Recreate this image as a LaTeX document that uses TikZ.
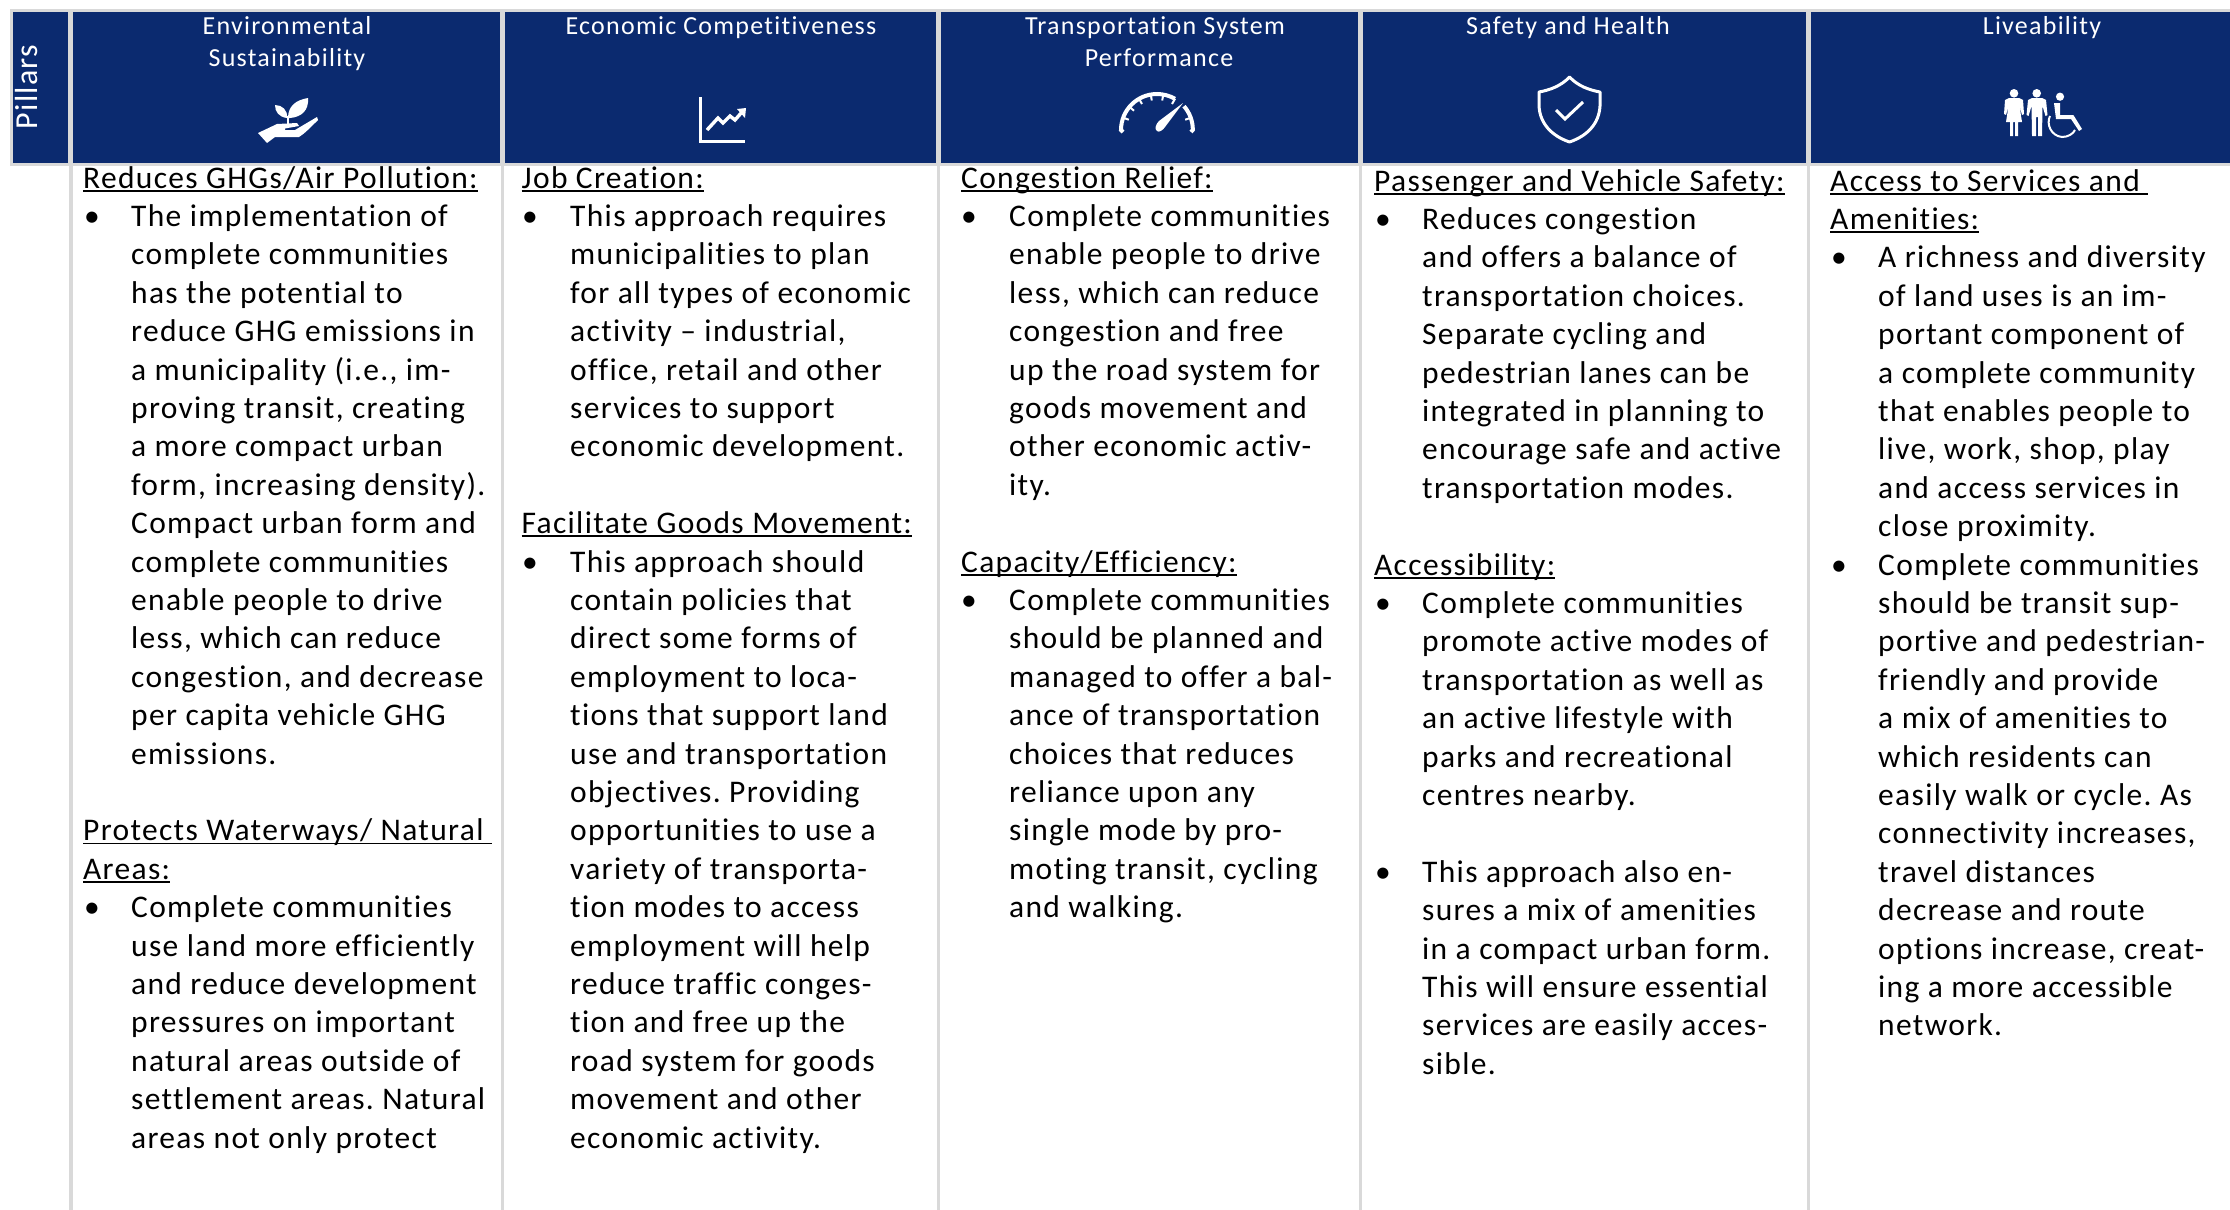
\documentclass[tikz,border=0pt]{standalone}
\usepackage{fontspec}
\setmainfont{Carlito}[Ligatures=NoCommon]
\definecolor{navy}{HTML}{0B2A6F}
\definecolor{grid}{HTML}{D9D9D9}
\newcommand{\ulin}[1]{\setbox0\hbox{#1}\rlap{\rule[-3.5pt]{\wd0}{1.7pt}}\box0}
\tikzset{
 headbox/.style={fill=navy,draw=none},
 gridline/.style={draw=grid,line width=3.5pt},
 bodyfont/.style={font=\fontsize{31.5}{38.4}\selectfont\addfontfeatures{LetterSpace=4.2}\frenchspacing},
 block/.style={bodyfont,anchor=north west,inner sep=0pt,align=left},
 headtxt/.style={font=\fontsize{26}{32}\selectfont\addfontfeatures{LetterSpace=4.8},text=white,anchor=north,inner sep=0pt,align=center},
 icon/.style={fill=white,draw=none},
 iconline/.style={draw=white,line width=3pt},
}
\newcommand{\bul}{\strut •}
\begin{document}
\begin{tikzpicture}[x=1pt,y=-1pt]
\useasboundingbox (0,0) rectangle (2230,1210);
\fill[white] (0,0) rectangle (2230,1210);
% header band
\fill[grid] (10,9) rectangle (2230,166);
\fill[headbox] (13,12) rectangle (68,163);
\fill[headbox] (73,12) rectangle (500,163);
\fill[headbox] (505,12) rectangle (936,163);
\fill[headbox] (941,12) rectangle (1358,163);
\fill[headbox] (1363,12) rectangle (1806,163);
\fill[headbox] (1811,12) rectangle (2230,163);
% grid lines
\draw[gridline] (71,166) -- (71,1210);
\draw[gridline] (502.5,166) -- (502.5,1210);
\draw[gridline] (938.5,166) -- (938.5,1210);
\draw[gridline] (1360.5,166) -- (1360.5,1210);
\draw[gridline] (1808.5,166) -- (1808.5,1210);
% header text
\node[text=white,inner sep=0pt,rotate=90,anchor=center,font=\fontsize{32}{32}\selectfont\addfontfeatures{LetterSpace=4}] (pil) at (27,87) {Pillars};
\node[headtxt] (h1) at (287,12) {\strut Environmental\\\strut Sustainability};
\node[headtxt] (h2) at (721,12) {\strut Economic Competitiveness};
\node[headtxt] (h3) at (1155,12) {\strut Transportation System\\\strut\hspace{8pt}Performance};
\node[headtxt] (h4) at (1568,12) {\strut Safety and Health};
\node[headtxt] (h5) at (2042,12) {\strut Liveability};
% plant icon
\fill[icon] (258,133) -- (277,124) -- (297,123) -- (299,126) -- (285,128.5) -- (285,130) -- (295,130) -- (317,117) -- (318,120) .. controls (310,128) and (304,134) .. (299,137) -- (275,137) -- (267,143) -- cycle;
\fill[icon] (288,118) .. controls (288,106) and (296,100) .. (308,98) .. controls (309,110) and (302,117) .. (290,118) -- cycle;
\fill[icon] (287,118) .. controls (279,117) and (275,112) .. (275,105) .. controls (282,105) and (288,110) .. (287,118) -- cycle;
\draw[draw=white,line width=1.5pt] (288,125) -- (288,116);
% chart icon
\draw[iconline] (700,97) -- (700,141) -- (745,141);
\draw[iconline,line width=3.4pt] (707,130) -- (718,118) -- (723,123) -- (730,116) -- (735,120) -- (742,112);
\fill[icon] (737,109) -- (746,108) -- (745,118) -- cycle;
% gauge icon
\draw[iconline,line width=4pt] (1123,132) -- (1121,130) arc[start angle=-180,end angle=-60,radius=36];
\draw[iconline,line width=4pt] (1184,106.2) arc[start angle=-41,end angle=0,radius=36] -- (1191,132);
\foreach \a in {160,140,120,100,80,60,20}{
 \draw[draw=white,line width=2pt] ({1157+36*cos(\a)},{130-36*sin(\a)}) -- ({1157+30*cos(\a)},{130-30*sin(\a)});}
\fill[icon] (1159,121) -- (1183,103) -- (1165,127) .. controls (1163,130) and (1159,133) .. (1157,131) .. controls (1154,129) and (1156,124) .. (1159,121) -- cycle;
% shield icon
\draw[draw=white,line width=3pt,line join=round] (1569.5,77) .. controls (1561,86) and (1550,90) .. (1539,92) -- (1539,106) .. controls (1540,124) and (1552,136) .. (1569.5,142) .. controls (1587,136) and (1599,124) .. (1600,106) -- (1600,92) .. controls (1589,90) and (1578,86) .. (1569.5,77) -- cycle;
\draw[draw=white,line width=3pt] (1556,110) -- (1565,119) -- (1583,102);
% people icon
\fill[icon] (2014,93.3) circle (4.3);
\fill[icon] (2009,98) -- (2019,98) -- (2023,100) -- (2024,114) -- (2022,115) -- (2019.5,106) -- (2022,122) -- (2018,122) -- (2018,136) -- (2015,136) -- (2015,122) -- (2013,122) -- (2013,136) -- (2010,136) -- (2010,122) -- (2006,122) -- (2008.5,106) -- (2006,115) -- (2004,114) -- (2005,100) -- cycle;
\fill[icon] (2036.7,93.3) circle (4.3);
\fill[icon] (2032,98) -- (2042,98) -- (2046,100) -- (2047.5,115) -- (2045.5,116) -- (2042.5,106) -- (2042,136) -- (2038,136) -- (2038,117) -- (2036,117) -- (2036,136) -- (2032,136) -- (2031.5,106) -- (2028.5,116) -- (2026.5,115) -- (2028,100) -- cycle;
\fill[icon] (2060,96.7) circle (4.1);
\fill[icon] (2054,103) -- (2060,103) -- (2060,115) -- (2073,115) -- (2074,116) -- (2082,129) -- (2079,131) -- (2071,119) -- (2056,119) -- cycle;
\draw[draw=white,line width=2pt] (2050,116) .. controls (2046,124) and (2051,136) .. (2062,137) .. controls (2068,137) and (2073,134) .. (2075,130);
% column 1
\node[block] (a0) at (83,161) {\strut\ulin{Reduces GHGs/Air Pollution:}};
\node[block] (ab1) at (84,199.4) {\bul};
\node[block] (a1) at (131,199.4) {\strut The implementation of\\complete communities\\has the potential to\\reduce GHG emissions in\\a municipality (i.e., im-\\proving transit, creating\\a more compact urban\\form, increasing density).\\Compact urban form and\\complete communities\\enable people to drive\\less, which can reduce\\congestion, and decrease\\per capita vehicle GHG\\emissions.};
\node[block] (a2) at (83,813.8) {\strut\ulin{Protects Waterways/ Natural\ }\\\ulin{Areas:}};
\node[block] (ab2) at (84,890.6) {\bul};
\node[block] (a3) at (131,890.6) {\strut Complete communities\\use land more efficiently\\and reduce development\\pressures on important\\natural areas outside of\\settlement areas. Natural\\areas not only protect};
% column 2
\node[block] (b0) at (521.5,161) {\strut\ulin{Job Creation:}};
\node[block] (bb1) at (522,199.4) {\bul};
\node[block] (b1) at (570,199.4) {\strut This approach requires\\municipalities to plan\\for all types of economic\\activity -- industrial,\\office, retail and other\\services to support\\economic development.};
\node[block] (b2) at (521.5,506.6) {\strut\ulin{Facilitate Goods Movement:}};
\node[block] (bb2) at (522,545) {\bul};
\node[block] (b3) at (570,545) {\strut This approach should\\contain policies that\\direct some forms of\\employment to loca-\\tions that support land\\use and transportation\\objectives. Providing\\opportunities to use a\\variety of transporta-\\tion modes to access\\employment will help\\reduce traffic conges-\\tion and free up the\\road system for goods\\movement and other\\economic activity.};
% column 3
\node[block] (c0) at (961,161) {\strut\ulin{Congestion Relief:}};
\node[block] (cb1) at (961,199.4) {\bul};
\node[block] (c1) at (1009,199.4) {\strut Complete communities\\enable people to drive\\less, which can reduce\\congestion and free\\up the road system for\\goods movement and\\other economic activ-\\ity.};
\node[block] (c2) at (961,545) {\strut\ulin{Capacity/Efficiency:}};
\node[block] (cb2) at (961,583.4) {\bul};
\node[block] (c3) at (1009,583.4) {\strut Complete communities\\should be planned and\\managed to offer a bal-\\ance of transportation\\choices that reduces\\reliance upon any\\single mode by pro-\\moting transit, cycling\\and walking.};
% column 4
\node[block] (d0) at (1374,164) {\strut\ulin{Passenger and Vehicle Safety:}};
\node[block] (db1) at (1375,202.4) {\bul};
\node[block] (d1) at (1422,202.4) {\strut Reduces congestion\\and offers a balance of\\transportation choices.\\Separate cycling and\\pedestrian lanes can be\\integrated in planning to\\encourage safe and active\\transportation modes.};
\node[block] (d2) at (1374,548) {\strut\ulin{Accessibility:}};
\node[block] (db2) at (1375,586.4) {\bul};
\node[block] (d3) at (1422,586.4) {\strut Complete communities\\promote active modes of\\transportation as well as\\an active lifestyle with\\parks and recreational\\centres nearby.};
\node[block] (db3) at (1375,855.2) {\bul};
\node[block] (d4) at (1422,855.2) {\strut This approach also en-\\sures a mix of amenities\\in a compact urban form.\\This will ensure essential\\services are easily acces-\\sible.};
% column 5
\node[block] (e0) at (1830,164) {\strut\ulin{Access to Services and\ }\\\ulin{Amenities:}};
\node[block] (eb1) at (1831,240.8) {\bul};
\node[block] (e1) at (1878,240.8) {\strut A richness and diversity\\of land uses is an im-\\portant component of\\a complete community\\that enables people to\\live, work, shop, play\\and access services in\\close proximity.};
\node[block] (eb2) at (1831,548) {\bul};
\node[block] (e2) at (1878,548) {\strut Complete communities\\should be transit sup-\\portive and pedestrian-\\friendly and provide\\a mix of amenities to\\which residents can\\easily walk or cycle. As\\connectivity increases,\\travel distances\\decrease and route\\options increase, creat-\\ing a more accessible\\network.};
\end{tikzpicture}
\end{document}
